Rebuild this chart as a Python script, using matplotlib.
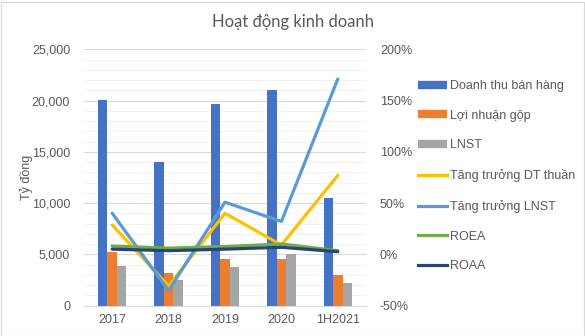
import matplotlib
matplotlib.use('Agg')
import matplotlib.pyplot as plt
import numpy as np
from matplotlib.lines import Line2D
from matplotlib.patches import Rectangle
from matplotlib.ticker import FuncFormatter, MultipleLocator

plt.rcParams['font.family'] = ['Liberation Sans', 'DejaVu Sans']

# data (ty dong / %)
periods = ['2017', '2018', '2019', '2020', '1H2021']
doanh_thu = [20050, 14000, 19700, 21050, 10450]
loi_nhuan_gop = [5200, 3160, 4520, 4520, 2960]
lnst = [3850, 2480, 3740, 5000, 2190]
tang_truong_dt = [28.6, -31, 40, 9, 77]
tang_truong_lnst = [40, -35.5, 50.8, 32, 171]
roea = [8, 6, 7.5, 10, 3.5]
roaa = [5, 3.5, 5, 6.8, 2.5]

c_blue = '#4472C4'
c_orange = '#ED7D31'
c_gray = '#A5A5A5'
c_yellow = '#FFC000'
c_lblue = '#5B9BD5'
c_green = '#70AD47'
c_navy = '#264478'
txt = '#595959'

fig = plt.figure(figsize=(5.85, 3.36), dpi=100)
ax = fig.add_axes([84/585, 1-305.5/336, 282/585, 256.2/336])
ax2 = ax.twinx()

x = np.arange(len(periods))
w = 0.167
ax.bar(x - w, doanh_thu, w, color=c_blue, zorder=3)
ax.bar(x, loi_nhuan_gop, w, color=c_orange, zorder=3)
ax.bar(x + w, lnst, w, color=c_gray, zorder=3)

lw = 2.3
ax2.plot(x, tang_truong_dt, color=c_yellow, lw=lw, solid_capstyle='round')
ax2.plot(x, tang_truong_lnst, color=c_lblue, lw=lw, solid_capstyle='round')
ax2.plot(x, roea, color=c_green, lw=lw, solid_capstyle='round')
ax2.plot(x, roaa, color=c_navy, lw=lw, solid_capstyle='round')

ax.set_xlim(-0.5, len(periods) - 0.5)
ax.set_ylim(0, 25000)
ax2.set_ylim(-50, 200)
ax.yaxis.set_major_locator(MultipleLocator(5000))
ax.yaxis.set_minor_locator(MultipleLocator(1000))
ax2.yaxis.set_major_locator(MultipleLocator(50))
ax.yaxis.set_major_formatter(FuncFormatter(lambda v, p: '{:,.0f}'.format(v)))
ax2.yaxis.set_major_formatter(FuncFormatter(lambda v, p: '{:.0f}%'.format(v)))

ax.grid(which='minor', axis='y', color='#F2F2F2', lw=0.8, zorder=0)
ax.grid(which='major', axis='y', color='#D9D9D9', lw=0.8, zorder=0)
ax.set_axisbelow(True)

for a in (ax, ax2):
    for s in a.spines.values():
        s.set_visible(False)
    a.tick_params(which='both', length=0, labelsize=9, labelcolor=txt)
ax.spines['bottom'].set_visible(True)
ax.spines['bottom'].set_color('#D9D9D9')
ax.spines['bottom'].set_zorder(4)
ax.set_xticks(x)
ax.set_xticklabels(periods)
ax.tick_params(axis='x', pad=6)
ax.tick_params(axis='y', pad=10)
ax2.tick_params(axis='y', pad=10)

ax.set_ylabel('Tỷ đồng', fontsize=9, color=txt, labelpad=-1)

fig.text(0.5, 1 - 22/336, 'Hoạt động kinh doanh', ha='center', va='center',
         fontsize=12, color=txt, family=['Lato', 'DejaVu Sans'])

handles = [
    Line2D([], [], color=c_blue, lw=6, solid_capstyle='butt'),
    Line2D([], [], color=c_orange, lw=6, solid_capstyle='butt'),
    Line2D([], [], color=c_gray, lw=6, solid_capstyle='butt'),
    Line2D([], [], color=c_yellow, lw=2.3),
    Line2D([], [], color=c_lblue, lw=2.3),
    Line2D([], [], color=c_green, lw=2.3),
    Line2D([], [], color=c_navy, lw=2.3),
]
labels = ['Doanh thu bán hàng', 'Lợi nhuận gộp', 'LNST', 'Tăng trưởng DT thuần',
          'Tăng trưởng LNST', 'ROEA', 'ROAA']
leg = fig.legend(handles, labels, loc='upper left', bbox_to_anchor=(418/585, 1 - 80/336),
                 frameon=False, fontsize=9, handlelength=2.3, handletextpad=0.25,
                 labelspacing=1.42, borderpad=0, borderaxespad=0)
for t in leg.get_texts():
    t.set_color(txt)

fig.patches.append(Rectangle((0.5/585, 0.5/336), 583/585, 334/336, transform=fig.transFigure,
                             fill=False, edgecolor='#D9D9D9', lw=0.8))

fig.savefig('out.png', dpi=100)
